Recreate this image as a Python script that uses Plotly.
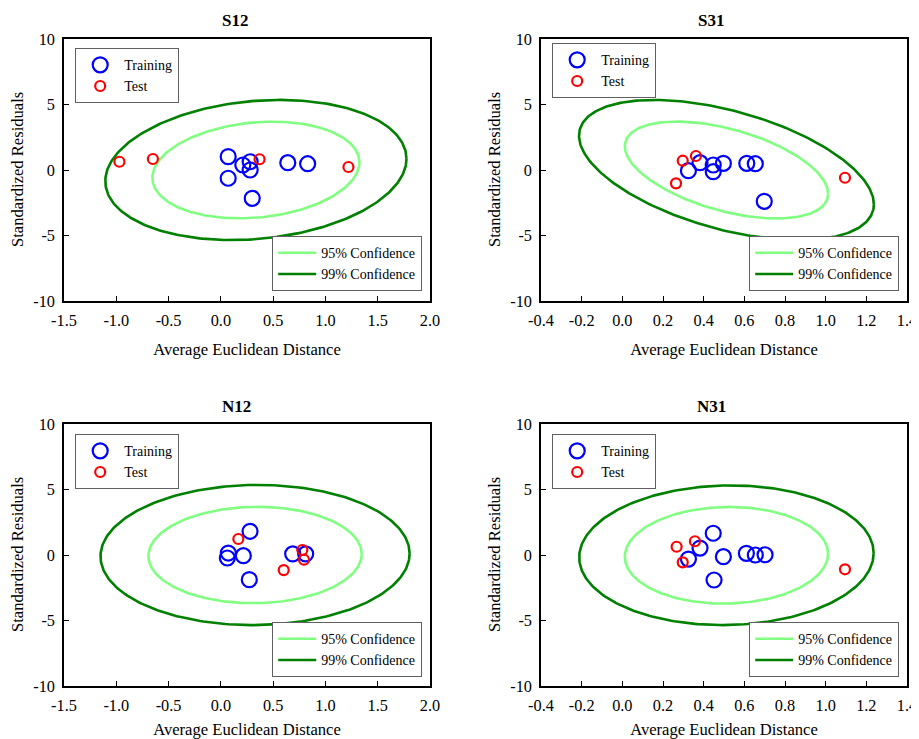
import numpy as np
import plotly.graph_objects as go

panel_titles = ["S12", "S31", "N12", "N31"]

S12_train_x = [0.07, 0.07, 0.21, 0.28, 0.28, 0.30, 0.64, 0.83]
S12_train_y = [1.02, -0.63, 0.38, 0.63, 0.00, -2.16, 0.56, 0.48]
S12_test_x = [-0.97, -0.65, 0.37, 1.22]
S12_test_y = [0.63, 0.84, 0.82, 0.23]

S31_train_x = [0.325, 0.382, 0.447, 0.447, 0.497, 0.612, 0.654, 0.698]
S31_train_y = [-0.05, 0.56, 0.38, -0.13, 0.51, 0.51, 0.48, -2.39]
S31_test_x = [0.297, 0.362, 0.264, 1.095]
S31_test_y = [0.71, 1.07, -1.02, -0.59]

N12_train_x = [0.279, 0.071, 0.062, 0.215, 0.272, 0.687, 0.811]
N12_train_y = [1.81, 0.15, -0.23, -0.05, -1.88, 0.08, 0.08]
N12_test_x = [0.167, 0.779, 0.795, 0.601]
N12_test_y = [1.22, 0.38, -0.36, -1.15]

N31_train_x = [0.447, 0.382, 0.325, 0.497, 0.451, 0.610, 0.654, 0.702]
N31_train_y = [1.66, 0.53, -0.31, -0.13, -1.91, 0.13, 0.00, 0.02]
N31_test_x = [0.267, 0.357, 0.297, 1.095]
N31_test_y = [0.63, 1.05, -0.56, -1.09]

# confidence ellipse parameters per panel (centre, half extents, correlation)
ell_cx = [0.335, 0.512, 0.327, 0.512]
ell_cy = [0.0, 0.0, 0.0, -0.02]
ell_hx95 = [0.99, 0.50, 1.02, 0.50]
ell_hy95 = [3.69, 3.70, 3.68, 3.69]
ell_hx99 = [1.44, 0.725, 1.478, 0.724]
ell_hy99 = [5.35, 5.35, 5.35, 5.33]
ell_rho = [0.16, -0.49, 0.02, 0.03]

# axis ticks
ticks_wide = [-1.5, -1.0, -0.5, 0.0, 0.5, 1.0, 1.5, 2.0]
ticks_wide_text = ["-1.5", "-1.0", "-0.5", "0.0", "0.5", "1.0", "1.5", "2.0"]
ticks_narrow = [-0.4, -0.2, 0.0, 0.2, 0.4, 0.6, 0.8, 1.0, 1.2, 1.4]
ticks_narrow_text = ["-0.4", "-0.2", "0.0", "0.2", "0.4", "0.6", "0.8", "1.0", "1.2", "1.4"]
y_ticks = [-10, -5, 0, 5, 10]
y_ticks_text = ["-10", "-5", "0", "5", "10"]

x_ranges = [[-1.5, 2.0], [-0.4, 1.4], [-1.5, 2.0], [-0.4, 1.4]]
x_tickvals = [ticks_wide, ticks_narrow, ticks_wide, ticks_narrow]
x_ticktext = [ticks_wide_text, ticks_narrow_text, ticks_wide_text, ticks_narrow_text]

train_x = [S12_train_x, S31_train_x, N12_train_x, N31_train_x]
train_y = [S12_train_y, S31_train_y, N12_train_y, N31_train_y]
test_x = [S12_test_x, S31_test_x, N12_test_x, N31_test_x]
test_y = [S12_test_y, S31_test_y, N12_test_y, N31_test_y]

FONT = "Times New Roman, Liberation Serif, serif"
OFF = 8  # page body margin
W, H = 919 - OFF, 739 - OFF
ML, MR, MT, MB = 64 - OFF, 12, 39 - OFF, 53
PW = W - ML - MR
PH = H - MT - MB


def px2x(px):
    return (px - OFF - ML) / PW


def py2y(py):
    return (H - MB - (py - OFF)) / PH


x_domains = [[0, px2x(430)], [px2x(541), 1], [0, px2x(430)], [px2x(541), 1]]
y_domains = [[py2y(301), 1], [py2y(301), 1], [0, py2y(424)], [0, py2y(424)]]

fig = go.Figure()
t = np.linspace(0, 2 * np.pi, 300)

for i in range(4):
    xa = "x" if i == 0 else f"x{i+1}"
    ya = "y" if i == 0 else f"y{i+1}"
    leg_m = "legend" if i == 0 else f"legend{2*i+1}"
    leg_l = f"legend{2*i+2}"
    s = np.sqrt(1 - ell_rho[i] ** 2)
    for hx, hy, name, col in [(ell_hx95[i], ell_hy95[i], "95% Confidence", "#80ff80"),
                              (ell_hx99[i], ell_hy99[i], "99% Confidence", "#008000")]:
        ex = ell_cx[i] + hx * np.cos(t)
        ey = ell_cy[i] + hy * (ell_rho[i] * np.cos(t) + s * np.sin(t))
        fig.add_trace(go.Scatter(x=ex, y=ey, mode="lines", name=name,
                                 line=dict(color=col, width=2.6),
                                 xaxis=xa, yaxis=ya, legend=leg_l, hoverinfo="skip"))
    fig.add_trace(go.Scatter(x=train_x[i], y=train_y[i], mode="markers", name="Training",
                             marker=dict(symbol="circle-open", size=15, color="#0000ff",
                                         line=dict(width=2.2, color="#0000ff")),
                             xaxis=xa, yaxis=ya, legend=leg_m))
    fig.add_trace(go.Scatter(x=test_x[i], y=test_y[i], mode="markers", name="Test",
                             marker=dict(symbol="circle-open", size=10, color="#ff0000",
                                         line=dict(width=2.2, color="#ff0000")),
                             xaxis=xa, yaxis=ya, legend=leg_m))

layout = dict(
    width=W, height=H,
    margin=dict(l=ML, r=MR, t=MT, b=MB),
    paper_bgcolor="white", plot_bgcolor="white",
    font=dict(family=FONT, size=16, color="black"),
    showlegend=True,
)

axis_common = dict(showline=True, mirror=True, linecolor="black", linewidth=1.5,
                   ticks="inside", ticklen=5, tickwidth=1, tickcolor="black",
                   showgrid=False, zeroline=False, automargin=False,
                   ticklabeloverflow="allow",
                   tickfont=dict(family=FONT, size=16.3, color="black"))

for i in range(4):
    kx = "xaxis" if i == 0 else f"xaxis{i+1}"
    ky = "yaxis" if i == 0 else f"yaxis{i+1}"
    ya = "y" if i == 0 else f"y{i+1}"
    xa = "x" if i == 0 else f"x{i+1}"
    layout[kx] = dict(axis_common, domain=x_domains[i], range=x_ranges[i],
                      tickmode="array", tickvals=x_tickvals[i], ticktext=x_ticktext[i],
                      anchor=ya, ticklabelstandoff=4,
                      title=dict(text="Average Euclidean Distance",
                                 font=dict(family=FONT, size=16.6), standoff=14))
    layout[ky] = dict(axis_common, domain=y_domains[i], range=[-10, 10],
                      tickmode="array", tickvals=y_ticks, ticktext=y_ticks_text,
                      anchor=xa, ticklabelstandoff=4)

leg_common = dict(bgcolor="white", bordercolor="#606060", borderwidth=1.2,
                  font=dict(family=FONT, size=14, color="black"),
                  tracegroupgap=0, itemclick=False, itemwidth=38)
mk_pos = [(75, 48), (552, 43), (75, 434), (552, 434)]
ln_pos = [(422, 291), (899, 291), (422, 677), (899, 677)]
for i in range(4):
    km = "legend" if i == 0 else f"legend{2*i+1}"
    kl = f"legend{2*i+2}"
    layout[km] = dict(leg_common, x=px2x(mk_pos[i][0]), y=py2y(mk_pos[i][1]),
                      xanchor="left", yanchor="top")
    layout[kl] = dict(leg_common, x=px2x(ln_pos[i][0]), y=py2y(ln_pos[i][1]),
                      xanchor="right", yanchor="bottom")

title_pos = [(235, 20), (711, 20), (236, 406), (711, 406)]
ytitle_pos = [(17, 170), (494, 170), (17, 555), (494, 555)]
annotations = [
    dict(text=f"<b>{panel_titles[i]}</b>", x=px2x(title_pos[i][0]), y=py2y(title_pos[i][1]),
         xref="paper", yref="paper", showarrow=False,
         font=dict(family=FONT, size=17, color="black"), xanchor="center", yanchor="middle")
    for i in range(4)
]
annotations += [
    dict(text="Standardized Residuals", x=px2x(ytitle_pos[i][0]), y=py2y(ytitle_pos[i][1]),
         xref="paper", yref="paper", showarrow=False, textangle=-90,
         font=dict(family=FONT, size=16.6, color="black"), xanchor="center", yanchor="middle")
    for i in range(4)
]
layout["annotations"] = annotations

fig.update_layout(**layout)
fig.write_html("out.html")
